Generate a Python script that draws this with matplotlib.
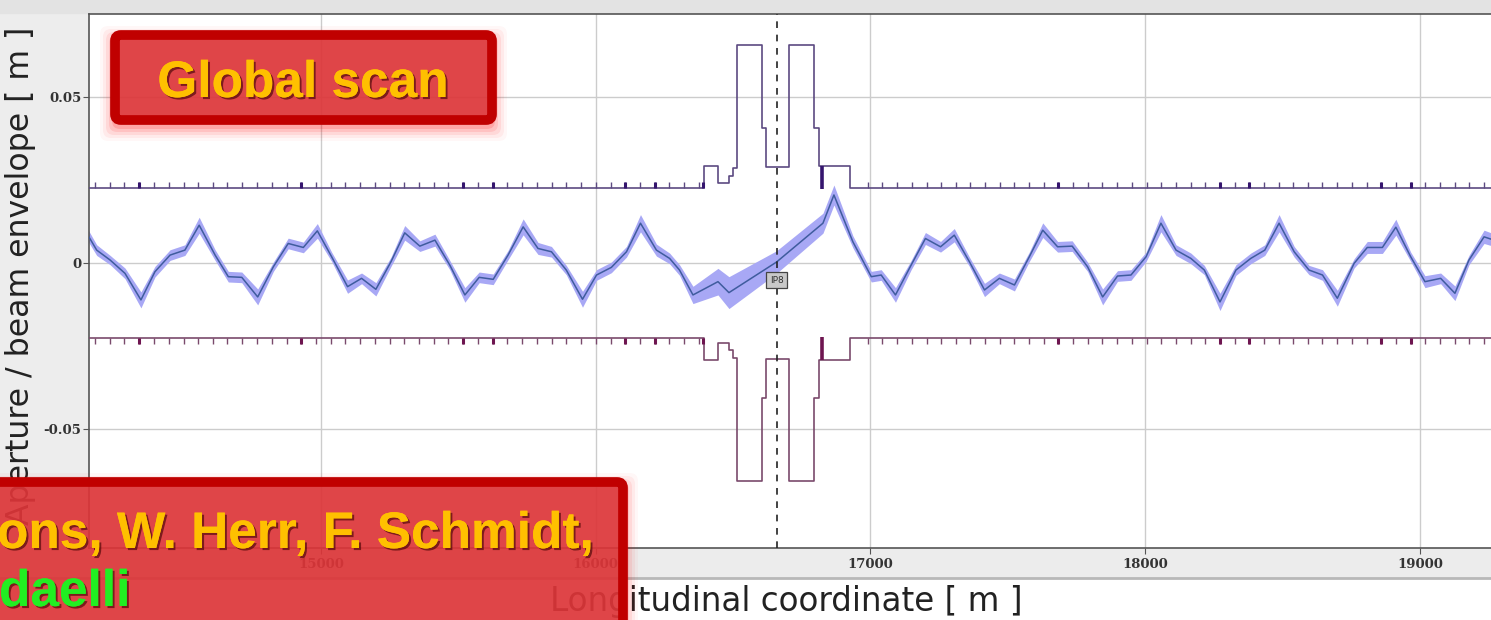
import numpy as np
import matplotlib.pyplot as plt
from matplotlib.patches import FancyBboxPatch, Rectangle
import matplotlib.patheffects as pe

# beam centre line (s [m], x [m]) and envelope half width
beam_s = [14142, 14184, 14233, 14287, 14345, 14396, 14451, 14505, 14557, 14615,
          14663, 14712, 14770, 14827, 14881, 14936, 14987, 15039, 15097, 15148,
          15200, 15255, 15305, 15360, 15415, 15469, 15524, 15576, 15627, 15681,
          15736, 15790, 15839, 15893, 15952, 16003, 16057, 16112, 16163, 16221,
          16269, 16305, 16354, 16445, 16485, 16658, 16827, 16867, 16936, 17003,
          17039, 17091, 17148, 17200, 17255, 17305, 17360, 17415, 17469, 17524,
          17578, 17627, 17681, 17734, 17790, 17845, 17899, 17948, 18003, 18057,
          18112, 18166, 18215, 18272, 18330, 18384, 18435, 18487, 18542, 18596,
          18645, 18699, 18760, 18808, 18863, 18912, 18966, 19018, 19075, 19127,
          19178, 19233, 19295]
beam_x = [0.0098, 0.0039, 0.0009, -0.0031, -0.0111, -0.0026, 0.0024, 0.0039, 0.0114, 0.0024,
          -0.0041, -0.0043, -0.0102, -0.0011, 0.0059, 0.0047, 0.0097, 0.0019, -0.0071, -0.0046,
          -0.0079, 0.0004, 0.0091, 0.0051, 0.0069, -0.0006, -0.0096, -0.0043, -0.0049, 0.0024,
          0.0109, 0.0044, 0.0034, -0.0021, -0.0109, -0.0036, -0.0013, 0.0034, 0.0120, 0.0039,
          0.0014, -0.0021, -0.0096, -0.0056, -0.0089, 0.0003, 0.0120, 0.0205, 0.0064, -0.0041,
          -0.0036, -0.0096, -0.0006, 0.0074, 0.0049, 0.0084, 0.0004, -0.0081, -0.0046, -0.0066,
          0.0019, 0.0099, 0.0049, 0.0051, -0.0011, -0.0102, -0.0039, -0.0036, 0.0019, 0.0120,
          0.0039, 0.0014, -0.0021, -0.0117, -0.0021, 0.0014, 0.0039, 0.0120, 0.0034, -0.0021,
          -0.0036, -0.0106, -0.0001, 0.0047, 0.0047, 0.0108, 0.0019, -0.0056, -0.0046, -0.0091,
          0.0009, 0.0079, 0.0062]
beam_w = [0.0018, 0.0016, 0.0014, 0.0016, 0.0024, 0.0016, 0.0016, 0.0016, 0.0024, 0.0016,
          0.0016, 0.0016, 0.0024, 0.0014, 0.0016, 0.0016, 0.0022, 0.0014, 0.0020, 0.0016,
          0.0020, 0.0014, 0.0022, 0.0016, 0.0018, 0.0014, 0.0022, 0.0016, 0.0016, 0.0014,
          0.0024, 0.0018, 0.0016, 0.0014, 0.0024, 0.0016, 0.0016, 0.0016, 0.0026, 0.0018,
          0.0016, 0.0016, 0.0026, 0.0040, 0.0048, 0.0034, 0.0030, 0.0030, 0.0018, 0.0016,
          0.0016, 0.0022, 0.0014, 0.0018, 0.0016, 0.0020, 0.0014, 0.0020, 0.0016, 0.0018,
          0.0014, 0.0022, 0.0016, 0.0016, 0.0014, 0.0024, 0.0016, 0.0016, 0.0014, 0.0026,
          0.0016, 0.0016, 0.0014, 0.0026, 0.0016, 0.0016, 0.0016, 0.0026, 0.0016, 0.0014,
          0.0016, 0.0024, 0.0014, 0.0018, 0.0018, 0.0024, 0.0014, 0.0018, 0.0016, 0.0022,
          0.0014, 0.0020, 0.0018]

# aperture half width (step profile)
ap_s = [14100, 16393, 16444, 16484, 16498, 16513, 16607, 16618, 16702, 16796, 16811, 16927, 19400]
ap_half = [0.0227, 0.0292, 0.0241, 0.0262, 0.0286, 0.0657, 0.0407, 0.0289, 0.0657, 0.0407,
           0.0292, 0.0227, 0.0227]

# element markers along the arc aperture
elem_s = [14178, 14232, 14285, 14339, 14392, 14446, 14500, 14553, 14607, 14660,
          14714, 14768, 14821, 14875, 14928, 14982, 15036, 15089, 15143, 15196,
          15250, 15304, 15357, 15411, 15464, 15518, 15572, 15625, 15679, 15732,
          15786, 15840, 15893, 15947, 16000, 16054, 16108, 16161, 16215, 16268,
          16322, 16376,
          16990, 17043, 17097, 17150, 17204, 17257, 17310, 17364, 17417, 17471,
          17524, 17577, 17631, 17684, 17738, 17791, 17844, 17898, 17951, 18005,
          18058, 18111, 18165, 18218, 18272, 18325, 18378, 18432, 18485, 18539,
          18592, 18645, 18699, 18752, 18806, 18859, 18912, 18966, 19019, 19073,
          19126, 19179, 19233]
elem_dark = [14339, 14928, 15518, 15625, 16108, 16215, 16389, 17684, 18272, 18378, 18859, 18966]
ir_marks = [16822]

ip_name = "IP8"
ip_s = 16658

xticks = [15000, 16000, 17000, 18000, 19000]
yticks = [-0.05, 0, 0.05]
ytick_labels = ["-0.05", "0", "0.05"]

W, H = 1491, 620
fig = plt.figure(figsize=(W / 100, H / 100), dpi=100)

# screenshot background (panel frame)
bg = fig.add_axes([0, 0, 1, 1], zorder=-5)
bg.set_xlim(0, W)
bg.set_ylim(H, 0)
bg.axis('off')
bg.add_patch(Rectangle((0, 0), 89, 548, color='#ededed'))
bg.add_patch(Rectangle((0, 0), W, 13, color='#e3e3e3'))
bg.add_patch(Rectangle((0, 548), W, 30, color='#ececec'))
bg.plot([0, W], [578, 578], color='#b8b8b8', lw=2)
bg.text(21, 276, 'Aperture / beam envelope [ m ]', rotation=90, ha='center', va='center',
        fontsize=22.7, color='#222222', family='DejaVu Sans')
bg.text(786, 601, 'Longitudinal coordinate [ m ]', ha='center', va='center',
        fontsize=23.5, color='#222222', family='DejaVu Sans')

# main plot
ax = fig.add_axes([89 / W, (H - 548) / H, (1500 - 89) / W, (548 - 14) / H])
ax.set_xlim(14156, 19291)
ax.set_ylim(-0.0858, 0.0750)
ax.set_xticks(xticks)
ax.set_xticklabels([str(t) for t in xticks])
ax.set_yticks(yticks)
ax.set_yticklabels(ytick_labels)
ax.grid(True, color='#cccccc', lw=1)
ax.set_axisbelow(True)
for lab in ax.get_xticklabels() + ax.get_yticklabels():
    lab.set_family('DejaVu Serif')
    lab.set_fontweight('bold')
    lab.set_fontsize(9.5)
    lab.set_color('#333333')
ax.tick_params(axis='x', length=4, pad=3, color='#555555')
ax.tick_params(axis='y', length=4, pad=1.5, color='#555555')
for side in ['left', 'bottom', 'top']:
    ax.spines[side].set_color('#555555')
    ax.spines[side].set_linewidth(1.2)
ax.spines['right'].set_visible(False)

s = np.array(beam_s)
bx = np.array(beam_x)
bw = np.array(beam_w)
ax.fill_between(s, bx - bw, bx + bw, color='#a8a8f5', lw=0, zorder=2)
ax.plot(s, bx, color='#3f5c9e', lw=1.1, zorder=3)

ah = np.array(ap_half)
ax.step(ap_s, ah, where='post', color='#5c4a82', lw=1.2, zorder=3)
ax.step(ap_s, -ah, where='post', color='#7a4a6c', lw=1.2, zorder=3)
ax.vlines(elem_s, 0.0227, 0.0243, color='#5c4a82', lw=1.0, zorder=3)
ax.vlines(elem_s, -0.0243, -0.0227, color='#7a4a6c', lw=1.0, zorder=3)
ax.vlines(elem_dark, 0.0227, 0.0245, color='#35156e', lw=2.2, zorder=3)
ax.vlines(elem_dark, -0.0245, -0.0227, color='#6e1550', lw=2.2, zorder=3)
ax.vlines(ir_marks, 0.0222, 0.0292, color='#35156e', lw=2.6, zorder=3)
ax.vlines(ir_marks, -0.0292, -0.0222, color='#6e1550', lw=2.6, zorder=3)

ax.axvline(ip_s, color='#222222', lw=1.2, ls=(0, (4, 4)), zorder=4)
ax.text(ip_s, -0.0051, ip_name, fontsize=6.5, ha='center', va='center', color='#333333', zorder=5,
        bbox=dict(boxstyle='square,pad=0.35', fc='#c8c8c8', ec='#444444', lw=0.9))

# slide overlays
ov = fig.add_axes([0, 0, 1, 1], zorder=5)
ov.set_xlim(0, W)
ov.set_ylim(H, 0)
ov.axis('off')
ov.patch.set_alpha(0)

def slide_box(x0, y0, w, h):
    for k, a in enumerate([0.14, 0.10, 0.07, 0.05, 0.03]):
        g = 3 + 3 * k
        ov.add_patch(FancyBboxPatch((x0 - g, y0 + 6 - g), w + 2 * g, h + 2 * g,
                                    boxstyle='round,pad=0,rounding_size=8',
                                    fc=(1, 0, 0, a), ec='none'))
    ov.add_patch(FancyBboxPatch((x0, y0), w, h, boxstyle='round,pad=0,rounding_size=6',
                                fc=(0.86, 0.22, 0.23, 0.88), ec='#c00000', lw=7))

shadow = [pe.withSimplePatchShadow(offset=(1.5, -1.5), shadow_rgbFace='#3a0000', alpha=0.6),
          pe.Normal()]

slide_box(115, 35, 377, 85)
ov.text(303, 97, 'Global scan', ha='center', va='baseline', fontsize=37, fontweight='bold',
        family='Liberation Sans', color='#ffc000', path_effects=shadow)

slide_box(-20, 482, 643, 170)
ov.text(-3, 548, 'ons, W. Herr, F. Schmidt,', ha='left', va='baseline', fontsize=37,
        fontweight='bold', family='Liberation Sans', color='#ffc000', path_effects=shadow)
ov.text(-1, 606, 'daelli', ha='left', va='baseline', fontsize=37,
        fontweight='bold', family='Liberation Sans', color='#22ee22', path_effects=shadow)

fig.savefig('out.png', dpi=100)
